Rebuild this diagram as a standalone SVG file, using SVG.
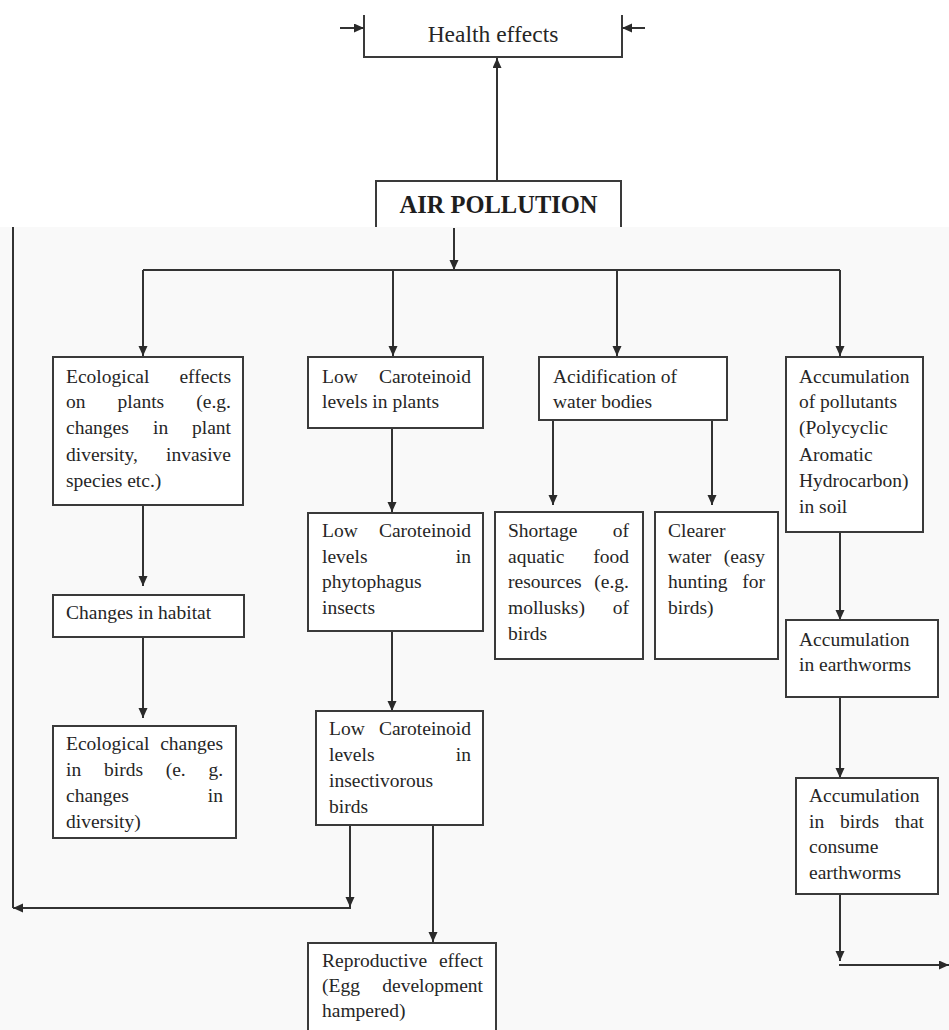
<svg xmlns="http://www.w3.org/2000/svg" width="949" height="1030" viewBox="0 0 949 1030">
<defs>
<marker id="ah" markerUnits="userSpaceOnUse" markerWidth="10" markerHeight="10" refX="10" refY="4.5" orient="auto">
<path d="M0,0 L10,4.5 L0,9 z" fill="#2a2a2a"/>
</marker>
<style>
.box{fill:#ffffff;stroke:#3a3a3a;stroke-width:2}
.open{fill:none;stroke:#3a3a3a;stroke-width:2}
.t{font-family:'Liberation Serif','DejaVu Serif',serif;font-size:19.5px;fill:#262626}
.e{text-anchor:end}
.c{fill:none;stroke:#333333;stroke-width:2}
.a{marker-end:url(#ah)}
</style>
</defs>
<rect x="0" y="0" width="949" height="1030" fill="#ffffff"/>
<rect x="0" y="227" width="949" height="803" fill="#f9f9f9"/>

<g id="health-effects">
<path class="open" d="M364,15 V57 H622 V15"/>
<text x="493" y="42" text-anchor="middle" font-family="'Liberation Serif','DejaVu Serif',serif" font-size="23.5" fill="#262626">Health effects</text>
</g>

<g id="air-pollution">
<path d="M376,227 V181 H621 V227" fill="#ffffff" stroke="#3a3a3a" stroke-width="2"/>
<text x="498.5" y="213" text-anchor="middle" font-family="'Liberation Serif','DejaVu Serif',serif" font-size="24.5" font-weight="bold" fill="#1e1e1e">AIR POLLUTION</text>
</g>

<g id="connectors">
<line class="c a" x1="497" y1="180" x2="497" y2="58"/>
<line class="c a" x1="340" y1="28" x2="364" y2="28"/>
<line class="c a" x1="645" y1="28" x2="622" y2="28"/>
<line class="c" x1="13" y1="227" x2="13" y2="908"/>
<line class="c a" x1="454" y1="228" x2="454" y2="270"/>
<line class="c" x1="143" y1="270" x2="840" y2="270"/>
<line class="c a" x1="143" y1="270" x2="143" y2="356"/>
<line class="c a" x1="393" y1="270" x2="393" y2="356"/>
<line class="c a" x1="617" y1="270" x2="617" y2="356"/>
<line class="c a" x1="840" y1="270" x2="840" y2="356"/>
<line class="c a" x1="143" y1="505" x2="143" y2="586"/>
<line class="c a" x1="143" y1="637" x2="143" y2="718"/>
<line class="c a" x1="392" y1="428" x2="392" y2="512"/>
<line class="c a" x1="392" y1="631" x2="392" y2="711"/>
<line class="c a" x1="553" y1="420" x2="553" y2="505"/>
<line class="c a" x1="712" y1="420" x2="712" y2="505"/>
<line class="c a" x1="840" y1="532" x2="840" y2="620"/>
<line class="c a" x1="840" y1="697" x2="840" y2="778"/>
<line class="c a" x1="350" y1="825" x2="350" y2="907"/>
<line class="c a" x1="351" y1="908" x2="13" y2="908"/>
<line class="c a" x1="433" y1="825" x2="433" y2="942"/>
<line class="c a" x1="840" y1="894" x2="840" y2="961"/>
<line class="c a" x1="839" y1="965" x2="949" y2="965"/>
</g>

<g id="eco-plants">
<rect class="box" x="53" y="357" width="190" height="148"/>
<text class="t" x="66" y="383">Ecological</text><text class="t e" x="231" y="383">effects</text>
<text class="t" x="66" y="408">on</text><text class="t" x="117.6" y="408">plants</text><text class="t e" x="231" y="408">(e.g.</text>
<text class="t" x="66" y="434">changes</text><text class="t" x="153" y="434">in</text><text class="t e" x="231" y="434">plant</text>
<text class="t" x="66" y="461">diversity,</text><text class="t e" x="231" y="461">invasive</text>
<text class="t" x="66" y="487">species etc.)</text>
</g>

<g id="habitat">
<rect class="box" x="53" y="595" width="191" height="42"/>
<text class="t" x="66" y="619">Changes in habitat</text>
</g>

<g id="eco-birds">
<rect class="box" x="53" y="726" width="183" height="112"/>
<text class="t" x="66" y="750">Ecological</text><text class="t e" x="223" y="750">changes</text>
<text class="t" x="66" y="776">in</text><text class="t" x="104" y="776">birds</text><text class="t" x="165.7" y="776">(e.</text><text class="t e" x="223" y="776">g.</text>
<text class="t" x="66" y="802">changes</text><text class="t e" x="223" y="802">in</text>
<text class="t" x="66" y="828">diversity)</text>
</g>

<g id="caro-plants">
<rect class="box" x="308" y="357" width="175" height="71"/>
<text class="t" x="322" y="383">Low</text><text class="t e" x="471" y="383">Caroteinoid</text>
<text class="t" x="322" y="408">levels in plants</text>
</g>

<g id="caro-insects">
<rect class="box" x="308" y="513" width="175" height="118"/>
<text class="t" x="322" y="537">Low</text><text class="t e" x="471" y="537">Caroteinoid</text>
<text class="t" x="322" y="563">levels</text><text class="t e" x="471" y="563">in</text>
<text class="t" x="322" y="588">phytophagus</text>
<text class="t" x="322" y="614">insects</text>
</g>

<g id="caro-birds">
<rect class="box" x="316" y="711" width="167" height="114"/>
<text class="t" x="329" y="735">Low</text><text class="t e" x="471" y="735">Caroteinoid</text>
<text class="t" x="329" y="761">levels</text><text class="t e" x="471" y="761">in</text>
<text class="t" x="329" y="787">insectivorous</text>
<text class="t" x="329" y="813">birds</text>
</g>

<g id="reproductive">
<rect class="box" x="308" y="943" width="188" height="100"/>
<text class="t" x="322" y="967">Reproductive</text><text class="t e" x="483" y="967">effect</text>
<text class="t" x="322" y="992">(Egg</text><text class="t e" x="483" y="992">development</text>
<text class="t" x="322" y="1017">hampered)</text>
</g>

<g id="acidification">
<rect class="box" x="539" y="357" width="188" height="63"/>
<text class="t" x="553" y="383">Acidification of</text>
<text class="t" x="553" y="408">water bodies</text>
</g>

<g id="shortage">
<rect class="box" x="495" y="512" width="148" height="147"/>
<text class="t" x="508" y="537">Shortage</text><text class="t e" x="629" y="537">of</text>
<text class="t" x="508" y="563">aquatic</text><text class="t e" x="629" y="563">food</text>
<text class="t" x="508" y="588">resources</text><text class="t e" x="629" y="588">(e.g.</text>
<text class="t" x="508" y="614">mollusks)</text><text class="t e" x="629" y="614">of</text>
<text class="t" x="508" y="640">birds</text>
</g>

<g id="clearer">
<rect class="box" x="655" y="512" width="123" height="147"/>
<text class="t" x="668" y="537">Clearer</text>
<text class="t" x="668" y="563">water</text><text class="t e" x="765" y="563">(easy</text>
<text class="t" x="668" y="588">hunting</text><text class="t e" x="765" y="588">for</text>
<text class="t" x="668" y="614">birds)</text>
</g>

<g id="accum-soil">
<rect class="box" x="786" y="357" width="137" height="175"/>
<text class="t" x="799" y="383">Accumulation</text>
<text class="t" x="799" y="408">of pollutants</text>
<text class="t" x="799" y="434">(Polycyclic</text>
<text class="t" x="799" y="461">Aromatic</text>
<text class="t" x="799" y="487">Hydrocarbon)</text>
<text class="t" x="799" y="513">in soil</text>
</g>

<g id="accum-earthworms">
<rect class="box" x="786" y="620" width="152" height="77"/>
<text class="t" x="799" y="646">Accumulation</text>
<text class="t" x="799" y="671">in earthworms</text>
</g>

<g id="accum-birds">
<rect class="box" x="796" y="778" width="142" height="116"/>
<text class="t" x="809" y="802">Accumulation</text>
<text class="t" x="809" y="828">in</text><text class="t" x="840" y="828">birds</text><text class="t e" x="924" y="828">that</text>
<text class="t" x="809" y="853">consume</text>
<text class="t" x="809" y="879">earthworms</text>
</g>
</svg>
